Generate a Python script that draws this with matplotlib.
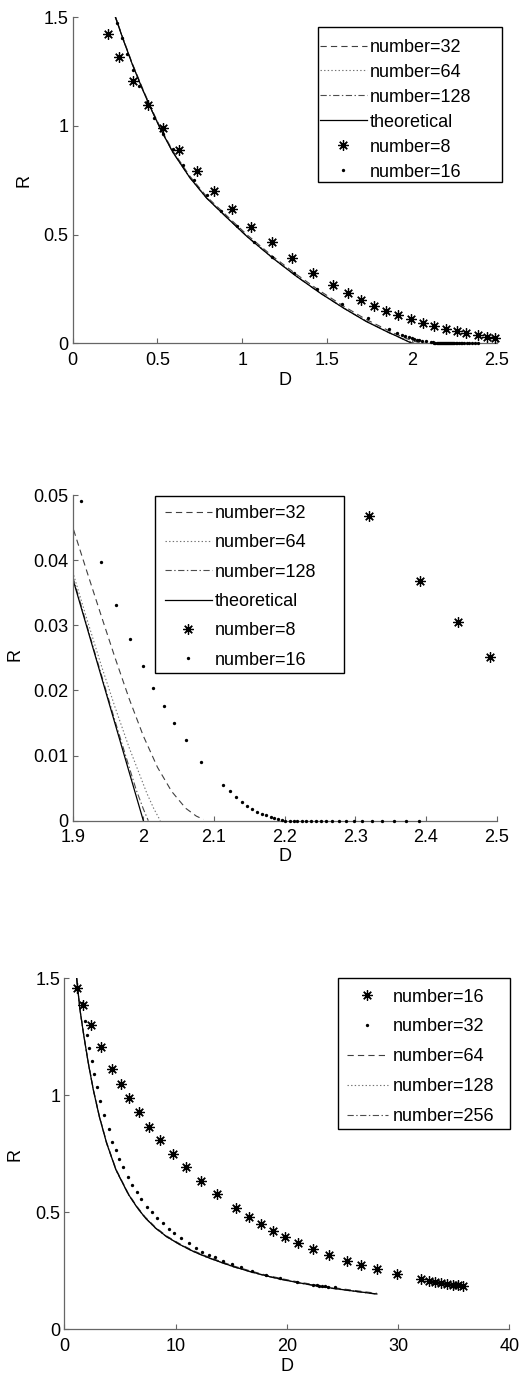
import matplotlib
matplotlib.use("Agg")
import matplotlib.pyplot as plt
from matplotlib.patches import Rectangle

plt.rcParams['font.family'] = ['Liberation Sans', 'DejaVu Sans']
plt.rcParams['font.size'] = 13
plt.rcParams['lines.scale_dashes'] = False

# ---------------- panels 1 and 2: numbers 8 .. 128 vs theory ----------------
theory_D = [0.25, 0.30, 0.35, 0.41, 0.46, 0.52, 0.59, 0.69, 0.79, 0.91, 1.03, 1.18,
            1.32, 1.46, 1.60, 1.73, 1.87, 1.90, 1.95, 2.00]
theory_R = [1.505, 1.393, 1.287, 1.172, 1.082, 0.982, 0.880, 0.763, 0.668, 0.578, 0.490, 0.392,
            0.308, 0.231, 0.161, 0.101, 0.047, 0.0372, 0.0186, 0.0]

n32_D = [0.25, 0.30, 0.35, 0.41, 0.46, 0.52, 0.59, 0.69, 0.79, 0.91, 1.03, 1.18,
         1.32, 1.46, 1.60, 1.73, 1.87, 1.90, 1.92, 1.94, 1.96, 1.98, 2.00, 2.02, 2.04,
         2.06, 2.075, 2.085]
n32_R = [1.508, 1.397, 1.291, 1.177, 1.087, 0.988, 0.886, 0.770, 0.675, 0.586, 0.498, 0.400,
         0.317, 0.240, 0.170, 0.110, 0.056, 0.0451, 0.0383, 0.0316, 0.0250, 0.0187, 0.0130, 0.0082, 0.0045,
         0.0019, 0.0007, 0.0002]

n64_D = [0.25, 0.30, 0.35, 0.41, 0.46, 0.52, 0.59, 0.69, 0.79, 0.91, 1.03, 1.18,
         1.32, 1.46, 1.60, 1.73, 1.87, 1.90, 1.92, 1.94, 1.96, 1.98, 1.995, 2.005, 2.015, 2.024]
n64_R = [1.506, 1.394, 1.288, 1.173, 1.084, 0.984, 0.882, 0.765, 0.670, 0.580, 0.492, 0.394,
         0.310, 0.233, 0.163, 0.103, 0.049, 0.0382, 0.0310, 0.0240, 0.0174, 0.0112, 0.0070, 0.0042, 0.0018, 0.0]

n128_D = [0.25, 0.30, 0.35, 0.41, 0.46, 0.52, 0.59, 0.69, 0.79, 0.91, 1.03, 1.18,
          1.32, 1.46, 1.60, 1.73, 1.87, 1.90, 1.93, 1.96, 1.98, 1.99, 2.00, 2.007]
n128_R = [1.505, 1.393, 1.287, 1.172, 1.082, 0.982, 0.880, 0.763, 0.668, 0.578, 0.490, 0.392,
          0.308, 0.231, 0.161, 0.102, 0.048, 0.0375, 0.0263, 0.0153, 0.0082, 0.0047, 0.0018, 0.0]

n8_D = [0.210, 0.275, 0.358, 0.442, 0.535, 0.629, 0.731, 0.833, 0.941, 1.050, 1.173, 1.295,
        1.419, 1.533, 1.625, 1.700, 1.777, 1.847, 1.920, 1.995, 2.064, 2.130, 2.201, 2.264,
        2.320, 2.391, 2.445, 2.490]
n8_R = [1.422, 1.316, 1.207, 1.095, 0.989, 0.890, 0.794, 0.702, 0.617, 0.537, 0.465, 0.394,
        0.325, 0.267, 0.230, 0.199, 0.173, 0.151, 0.131, 0.111, 0.094, 0.079, 0.068, 0.056,
        0.0468, 0.0368, 0.0305, 0.0252]

n16_D = [0.263, 0.291, 0.322, 0.357, 0.393, 0.436, 0.481, 0.531, 0.590, 0.649, 0.715, 0.790,
         0.876, 0.967, 1.069, 1.177, 1.305, 1.443, 1.586, 1.743, 1.867, 1.912, 1.940, 1.962,
         1.981, 1.999, 2.014, 2.029, 2.043, 2.060, 2.081, 2.113, 2.122, 2.131, 2.139, 2.147,
         2.154, 2.161, 2.168, 2.174, 2.180, 2.185, 2.191, 2.196, 2.201, 2.207, 2.213, 2.218,
         2.224, 2.230, 2.237, 2.244, 2.251, 2.259, 2.267, 2.277, 2.287, 2.298, 2.310, 2.323,
         2.338, 2.354, 2.371, 2.390]
n16_R = [1.475, 1.403, 1.330, 1.257, 1.184, 1.110, 1.038, 0.964, 0.895, 0.822, 0.751, 0.682,
         0.608, 0.540, 0.468, 0.396, 0.325, 0.251, 0.181, 0.115, 0.067, 0.0491, 0.0397, 0.0331,
         0.0279, 0.0238, 0.0204, 0.0176, 0.0150, 0.0124, 0.0090, 0.0055, 0.0045, 0.0036, 0.0029, 0.0023,
         0.0018, 0.0013, 0.0010, 0.0008, 0.0006, 0.0004, 0.0002, 0.0001, 0.0, 0.0, 0.0, 0.0,
         0.0, 0.0, 0.0, 0.0, 0.0, 0.0, 0.0, 0.0, 0.0, 0.0, 0.0, 0.0,
         0.0, 0.0, 0.0, 0.0]

# ---------------- panel 3: numbers 16 .. 256 ----------------
p3_n16_D = [1.11, 1.68, 2.37, 3.30, 4.28, 5.06, 5.84, 6.68, 7.63, 8.62, 9.74, 10.94, 12.25,
            13.73, 15.44, 16.62, 17.71, 18.79, 19.84, 21.03, 22.32, 23.82, 25.44, 26.67, 28.10,
            29.87, 32.08, 32.74, 33.30, 33.87, 34.44, 34.90, 35.35, 35.81]
p3_n16_R = [1.458, 1.388, 1.302, 1.208, 1.113, 1.048, 0.987, 0.927, 0.866, 0.808, 0.749, 0.692, 0.635,
            0.578, 0.518, 0.479, 0.449, 0.420, 0.393, 0.370, 0.345, 0.316, 0.293, 0.275, 0.256,
            0.235, 0.214, 0.207, 0.202, 0.198, 0.194, 0.191, 0.188, 0.185]

p3_n32_D = [1.62, 1.86, 2.07, 2.25, 2.46, 2.67, 2.94, 3.24, 3.60, 4.02, 4.32, 4.65, 4.95, 5.31,
            5.70, 6.12, 6.51, 6.89, 7.40, 7.88, 8.30, 8.84, 9.38, 9.89, 10.46, 11.21, 11.81,
            12.41, 12.98, 13.55, 14.30, 15.12, 15.90, 16.84, 18.13, 19.39, 20.94, 22.38, 22.69,
            22.92, 23.16, 23.40, 23.68, 24.33]
p3_n32_R = [1.395, 1.319, 1.258, 1.201, 1.147, 1.090, 1.034, 0.976, 0.916, 0.855, 0.802, 0.766, 0.728, 0.692,
            0.652, 0.617, 0.588, 0.556, 0.524, 0.500, 0.476, 0.453, 0.429, 0.410, 0.390, 0.368, 0.349,
            0.332, 0.319, 0.307, 0.292, 0.278, 0.266, 0.250, 0.233, 0.219, 0.203, 0.189, 0.188,
            0.186, 0.185, 0.184, 0.182, 0.179]

p3_line_D = [1.11, 1.41, 1.77, 2.16, 2.61, 3.15, 3.81, 4.65, 5.75, 6.50, 7.25, 8.20, 9.20,
             10.4, 11.6, 12.8, 14.0, 15.2, 16.7, 18.2, 19.7, 21.2, 22.7, 24.2, 26.1, 28.1]
p3_n64_R = [1.505, 1.368, 1.253, 1.140, 1.026, 0.912, 0.798, 0.684, 0.581, 0.527, 0.481, 0.436, 0.399,
            0.365, 0.336, 0.312, 0.291, 0.271, 0.250, 0.231, 0.215, 0.201, 0.189, 0.178, 0.166, 0.154]
p3_n128_R = [1.50, 1.365, 1.250, 1.137, 1.023, 0.909, 0.795, 0.681, 0.578, 0.524, 0.478, 0.433, 0.396,
             0.362, 0.333, 0.309, 0.288, 0.268, 0.247, 0.228, 0.212, 0.198, 0.186, 0.175, 0.163, 0.151]
p3_n256_R = [1.50, 1.364, 1.249, 1.136, 1.022, 0.908, 0.794, 0.680, 0.577, 0.523, 0.477, 0.432, 0.395,
             0.361, 0.332, 0.308, 0.287, 0.267, 0.246, 0.227, 0.211, 0.197, 0.185, 0.174, 0.162, 0.150]

# ticks
p1_xticks = [0, 0.5, 1, 1.5, 2, 2.5]
p1_xlabels = ['0', '0.5', '1', '1.5', '2', '2.5']
p1_yticks = [0, 0.5, 1, 1.5]
p1_ylabels = ['0', '0.5', '1', '1.5']
p2_xticks = [1.9, 2.0, 2.1, 2.2, 2.3, 2.4, 2.5]
p2_xlabels = ['1.9', '2', '2.1', '2.2', '2.3', '2.4', '2.5']
p2_yticks = [0, 0.01, 0.02, 0.03, 0.04, 0.05]
p2_ylabels = ['0', '0.01', '0.02', '0.03', '0.04', '0.05']
p3_xticks = [0, 10, 20, 30, 40]
p3_xlabels = ['0', '10', '20', '30', '40']

GREY = '0.4'
FS = 13
STAR = dict(marker=(8, 2, 0), markersize=7.5, markeredgewidth=0.9, color='k', linestyle='none')
DOT = dict(marker='o', markersize=2.4, markeredgewidth=0, color='k', linestyle='none')
DASH = dict(color='0.25', lw=0.8, linestyle=(0, (4.5, 3)))
DOTTED = dict(color='0.45', lw=0.8, linestyle=(0, (1, 1.6)))
DASHDOT = dict(color='0.3', lw=0.8, linestyle=(0, (4.5, 1.8, 1, 1.8)))
SOLID = dict(color='k', lw=0.9, linestyle='-')


def style(ax, xlim, ylim, xt, xl, yt, yl):
    ax.set_xlim(*xlim)
    ax.set_ylim(*ylim)
    ax.set_xticks(xt)
    ax.set_xticklabels(xl)
    ax.set_yticks(yt)
    ax.set_yticklabels(yl)
    for s in ['top', 'right']:
        ax.spines[s].set_visible(False)
    for s in ['left', 'bottom']:
        ax.spines[s].set_color(GREY)
        ax.spines[s].set_linewidth(0.9)
    ax.tick_params(direction='in', length=3.4, width=0.8, color=GREY, labelsize=FS)
    ax.tick_params(axis='x', pad=6)
    ax.tick_params(axis='y', pad=3)


def scatter(ax, D, R, kw):
    # keep only points inside the view, draw them unclipped (as MATLAB does)
    x0, x1 = ax.get_xlim()
    y0, y1 = ax.get_ylim()
    pts = [(d, r) for d, r in zip(D, R) if x0 <= d <= x1 and y0 <= r <= y1]
    xs = [p[0] for p in pts]
    ys = [p[1] for p in pts]
    return ax.plot(xs, ys, clip_on=False, zorder=3, **kw)[0]


def legend_box(ax, handles, labels, box, anchor, hlen, hpad, lspace):
    x0, y0, x1, y1 = box
    ax.add_patch(Rectangle((x0, y0), x1 - x0, y1 - y0, transform=ax.transAxes,
                           facecolor='white', edgecolor='k', lw=1.0, clip_on=False, zorder=4.5))
    leg = ax.legend(handles, labels, loc='upper left', bbox_to_anchor=anchor, frameon=False,
                    borderpad=0, borderaxespad=0, handlelength=hlen, handletextpad=hpad,
                    labelspacing=lspace, fontsize=FS, numpoints=1)
    leg.set_zorder(5)


fig = plt.figure(figsize=(5.24, 13.74), dpi=100)

# ---------- panels 1 and 2 ----------
ax1 = fig.add_axes([0.1387, 0.7501, 0.8092, 0.2373])
style(ax1, (0, 2.5), (0, 1.5), p1_xticks, p1_xlabels, p1_yticks, p1_ylabels)
ax2 = fig.add_axes([0.1387, 0.4027, 0.8092, 0.2370])
style(ax2, (1.9, 2.5), (0, 0.05), p2_xticks, p2_xlabels, p2_yticks, p2_ylabels)

handles = {}
for ax in [ax1, ax2]:
    h32, = ax.plot(n32_D, n32_R, **DASH)
    h64, = ax.plot(n64_D, n64_R, **DOTTED)
    h128, = ax.plot(n128_D, n128_R, **DASHDOT)
    ht, = ax.plot(theory_D, theory_R, **SOLID)
    h8 = scatter(ax, n8_D, n8_R, STAR)
    h16 = scatter(ax, n16_D, n16_R, DOT)
    handles[ax] = [h32, h64, h128, ht, h8, h16]

labels12 = ['number=32', 'number=64', 'number=128', 'theoretical', 'number=8', 'number=16']
legend_box(ax1, handles[ax1], labels12, (0.5786, 0.495, 1.0125, 0.970), (0.583, 0.934), 2.6, 0.17, 0.44)
legend_box(ax2, handles[ax2], labels12, (0.194, 0.4535, 0.640, 0.997), (0.2177, 0.969), 2.6, 0.17, 0.68)

ax1.set_xlabel('D', fontsize=FS)
ax1.set_ylabel('R', fontsize=FS)
ax1.xaxis.set_label_coords(0.5, -0.087)
ax1.yaxis.set_label_coords(-0.094, 0.501)
ax2.set_xlabel('D', fontsize=FS)
ax2.set_ylabel('R', fontsize=FS)
ax2.xaxis.set_label_coords(0.5, -0.084)
ax2.yaxis.set_label_coords(-0.1165, 0.509)

# ---------- panel 3 ----------
ax3 = fig.add_axes([0.1227, 0.0325, 0.8492, 0.2555])
style(ax3, (0, 40), (0, 1.5), p3_xticks, p3_xlabels, p1_yticks, p1_ylabels)
g64, = ax3.plot(p3_line_D, p3_n64_R, **DASH)
g128, = ax3.plot(p3_line_D, p3_n128_R, **DOTTED)
g256, = ax3.plot(p3_line_D, p3_n256_R, **DASHDOT)
ax3.plot(p3_line_D, p3_n128_R, color='k', lw=0.9)
g16 = scatter(ax3, p3_n16_D, p3_n16_R, STAR)
g32 = scatter(ax3, p3_n32_D, p3_n32_R, DOT)
legend_box(ax3, [g16, g32, g64, g128, g256],
           ['number=16', 'number=32', 'number=64', 'number=128', 'number=256'],
           (0.615, 0.5707, 1.0016, 1.0009), (0.635, 0.9707), 2.27, 0.28, 0.71)
ax3.set_xlabel('D', fontsize=FS)
ax3.set_ylabel('R', fontsize=FS)
ax3.xaxis.set_label_coords(0.5, -0.083)
ax3.yaxis.set_label_coords(-0.092, 0.497)

fig.savefig('out.png', dpi=100)
